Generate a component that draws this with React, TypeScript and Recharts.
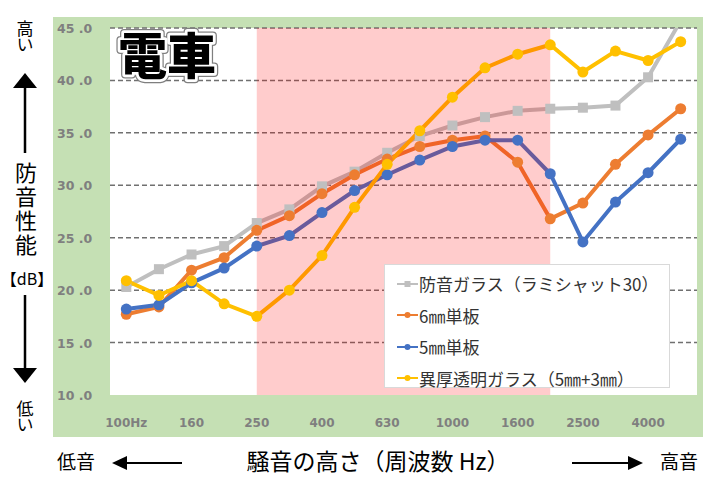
import { LineChart, Line, XAxis, YAxis, CartesianGrid, ReferenceArea, Legend } from "recharts";

const freqLabels = ["100Hz", "125", "160", "200", "250", "315", "400", "500", "630", "800", "1000", "1250", "1600", "2000", "2500", "3150", "4000", "5000"];

const laminated = [20.3, 22.0, 23.4, 24.2, 26.4, 27.7, 29.9, 31.3, 33.1, 34.7, 35.7, 36.5, 37.1, 37.3, 37.4, 37.6, 40.3, 45.7];
const single6 = [17.7, 18.4, 21.9, 23.1, 25.7, 27.1, 29.2, 31.0, 32.5, 33.7, 34.3, 34.7, 32.2, 26.8, 28.3, 32.0, 34.8, 37.3];
const single5 = [18.2, 18.6, 20.7, 22.1, 24.2, 25.2, 27.4, 29.5, 31.0, 32.4, 33.7, 34.3, 34.3, 31.1, 24.6, 28.4, 31.2, 34.4];
const asymmetric = [20.9, 19.5, 20.9, 18.7, 17.5, 20.0, 23.3, 27.9, 32.0, 35.2, 38.4, 41.2, 42.5, 43.4, 40.8, 42.8, 41.9, 43.7];

const yTicks = [10, 15, 20, 25, 30, 35, 40, 45];
const gridValues = [15, 20, 25, 30, 35, 40, 45];
const xTicks = [0, 2, 4, 6, 8, 10, 12, 14, 16];
// 250Hz .. 2000Hz
const highlight = [4, 13];

const series = [
  { key: "laminated", name: "防音ガラス（ラミシャット30）", color: "#bfbfbf", values: laminated, marker: "square" },
  { key: "single6", name: "6㎜単板", color: "#ed7d31", values: single6, marker: "circle" },
  { key: "single5", name: "5㎜単板", color: "#4472c4", values: single5, marker: "circle" },
  { key: "asymmetric", name: "異厚透明ガラス（5㎜+3㎜）", color: "#ffc000", values: asymmetric, marker: "circle" },
];

const data = freqLabels.map((label, i) => {
  const row: Record<string, number | string> = { i, label };
  series.forEach((s) => (row[s.key] = s.values[i]));
  return row;
});

const FONT = "'Noto Sans CJK JP', 'Noto Sans', sans-serif";
const TICK_FONT = "'DejaVu Sans', sans-serif";

const makeDot = (color: string, marker: string) => (props: any) => {
  const { cx, cy, index } = props;
  if (cx == null || cy == null) return <g key={index} />;
  if (marker === "square") {
    return <rect key={index} x={cx - 5} y={cy - 5} width={10} height={10} fill={color} />;
  }
  return <circle key={index} cx={cx} cy={cy} r={5.5} fill={color} />;
};

const YTick = ({ y, payload }: any) => (
  <text x={57} y={y + 5} fill="#7f7f7f" fontFamily={TICK_FONT} fontWeight="bold" fontSize={12.5}>
    {`${payload.value} .0`}
  </text>
);

const XTick = ({ x, y, payload }: any) => (
  <text x={x} y={y + 24} textAnchor="middle" fill="#7f7f7f" fontFamily={TICK_FONT} fontWeight="bold" fontSize={12}>
    {freqLabels[payload.value]}
  </text>
);

const LegendBox = () => (
  <div
    style={{
      width: 286,
      height: 124,
      boxSizing: "border-box",
      background: "#fff",
      border: "1px solid #d9d9d9",
      padding: "3px 0 0 12px",
      fontFamily: FONT,
      fontSize: 17,
      color: "#333",
    }}
  >
    {series.map((s) => (
      <div key={s.key} style={{ height: 31.5, display: "flex", alignItems: "center", whiteSpace: "nowrap" }}>
        <svg width={21} height={10} style={{ marginRight: 1 }}>
          <line x1={0} y1={5} x2={21} y2={5} stroke={s.color} strokeWidth={2} />
          {s.marker === "square" ? (
            <rect x={7.5} y={2} width={6} height={6} fill={s.color} />
          ) : (
            <circle cx={10.5} cy={5} r={3} fill={s.color} />
          )}
        </svg>
        <span>{s.name}</span>
      </div>
    ))}
  </div>
);

const VText = ({ text, x, y, size, spacing }: { text: string; x: number; y: number; size: number; spacing: number }) => (
  <text
    x={x}
    y={y}
    fontSize={size}
    fontFamily={FONT}
    fill="#000"
    style={{ writingMode: "vertical-rl", letterSpacing: spacing }}
  >
    {text}
  </text>
);

export default function App() {
  return (
    <div style={{ position: "absolute", left: 0, top: 0, width: 707, height: 477, background: "#fff" }}>
      <div style={{ position: "absolute", left: 53, top: 17, width: 650, height: 420, background: "#c5e0b4" }} />
      <div style={{ position: "absolute", left: 0, top: 0 }}>
        <LineChart width={707} height={477} data={data} margin={{ top: 28, right: 10, bottom: 0, left: 53 }}>
          <CartesianGrid
            vertical={false}
            horizontalValues={gridValues}
            stroke="#707070"
            strokeWidth={1.5}
            strokeDasharray="5 3"
            fill="#ffffff"
            fillOpacity={1}
          />
          <XAxis
            type="number"
            dataKey="i"
            domain={[-0.5, 17.5]}
            ticks={xTicks}
            interval={0}
            axisLine={false}
            tickLine={false}
            height={82}
            tick={<XTick />}
          />
          <YAxis
            domain={[10, 45]}
            ticks={yTicks}
            allowDataOverflow
            axisLine={false}
            tickLine={false}
            width={57}
            tick={<YTick />}
          />
          {series.map((s) => (
            <Line
              key={s.key}
              type="linear"
              dataKey={s.key}
              name={s.name}
              stroke={s.color}
              strokeWidth={4}
              dot={makeDot(s.color, s.marker)}
              activeDot={false}
              isAnimationActive={false}
            />
          ))}
          <ReferenceArea
            x1={highlight[0]}
            x2={highlight[1]}
            y1={10}
            y2={45}
            fill="#ff0000"
            fillOpacity={0.2}
            stroke="none"
            ifOverflow="hidden"
            {...({ zIndex: 450 } as any)}
          />
          <Legend
            layout="vertical"
            align="center"
            verticalAlign="middle"
            wrapperStyle={{ position: "absolute", left: 384, top: 264, width: 286, height: 124 }}
            content={() => <LegendBox />}
          />
        </LineChart>
      </div>
      <svg width={707} height={477} style={{ position: "absolute", left: 0, top: 0, pointerEvents: "none" }}>
        {/* title */}
        <g fontFamily={FONT} fontWeight={900} fontSize={49}>
          <text x={118} y={74} fill="#000" stroke="#7f7f7f" strokeWidth={8} strokeLinejoin="round">電車</text>
          <text x={118} y={74} fill="#000" stroke="#fff" strokeWidth={5.5} strokeLinejoin="round">電車</text>
          <text x={118} y={74} fill="#000">電車</text>
        </g>
        {/* left axis label */}
        <VText text="高い" x={25} y={20} size={17} spacing={-1} />
        <line x1={25} y1={86} x2={25} y2={153} stroke="#000" strokeWidth={2.5} />
        <polygon points="25,73 13,88 37,88" fill="#000" />
        <VText text="防音性能" x={26} y={162} size={22} spacing={2} />
        <text x={27} y={285} textAnchor="middle" fontSize={16} fontFamily={FONT} fill="#000">【dB】</text>
        <line x1={25} y1={295} x2={25} y2={370} stroke="#000" strokeWidth={2.5} />
        <polygon points="13,368 37,368 25,383" fill="#000" />
        <VText text="低い" x={25} y={400} size={17} spacing={-1} />
        {/* bottom axis label */}
        <text x={57} y={469} fontSize={19} fontFamily={FONT} fill="#000">低音</text>
        <line x1={124} y1={463} x2={182} y2={463} stroke="#000" strokeWidth={2} />
        <polygon points="112,463 127,456 127,470" fill="#000" />
        <text x={378} y={470} textAnchor="middle" fontSize={23} fontFamily={FONT} fill="#000">騒音の高さ（周波数 Hz）</text>
        <line x1={572} y1={463} x2={631} y2={463} stroke="#000" strokeWidth={2} />
        <polygon points="643,463 628,456 628,470" fill="#000" />
        <text x={660} y={469} fontSize={19} fontFamily={FONT} fill="#000">高音</text>
      </svg>
    </div>
  );
}
